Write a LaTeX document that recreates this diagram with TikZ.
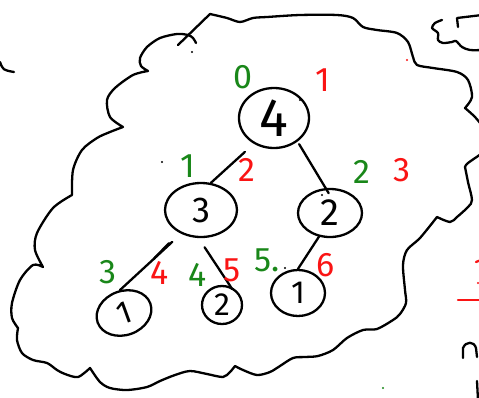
\documentclass[tikz,border=0pt]{standalone}
\usepackage{fontspec}
\setmainfont{Fira Sans}
\usetikzlibrary{shapes.geometric,calc}
\definecolor{hgreen}{RGB}{25,135,25}
\definecolor{hred}{RGB}{250,20,20}
\begin{document}
\begin{tikzpicture}[x=1pt,y=-1pt,
  ink/.style={line width=2.3pt, line cap=round, line join=round},
  tnode/.style={ellipse, draw, line width=2.3pt, inner sep=0pt},
  glab/.style={text=hgreen, font=\fontsize{34}{36}\selectfont, inner sep=0pt},
  rlab/.style={text=hred, font=\fontsize{34}{36}\selectfont, inner sep=0pt},
  edgeline/.style={ink}]
\useasboundingbox (0,0) rectangle (479,397);
\clip (0,0) rectangle (479,397);
\fill[white] (0,0) rectangle (479,397);

% big cloud
\draw[ink] (178,45) -- (210,14)
  -- plot[smooth] coordinates {(210,14) (227,18) (240,22) (253,18) (267,17) (300,15) (337,15) (353,18) (363,27) (377,30) (397,33) (408,42) (413,57) (417,65) (433,68) (457,72) (468,80) (472,97) (465,108)}
  -- plot[smooth] coordinates {(465,108) (475,117) (484,128)};
\draw[ink] plot[smooth] coordinates {(484,152) (468,163) (465,167)}
  -- plot[smooth] coordinates {(465,167) (468,182) (472,200) (468,207) (457,217) (450,222) (437,217)}
  -- plot[smooth] coordinates {(437,217) (420,238) (407,250) (403,265) (405,290) (406,303) (400,314) (393,320) (377,329) (363,330) (347,338) (333,350) (318,356) (305,357) (293,358) (280,366) (270,372) (257,375) (243,370) (235,366)}
  -- plot[smooth] coordinates {(235,366) (230,372) (223,377) (207,374) (190,371) (175,375) (160,381) (147,387) (127,390) (110,388) (100,382) (90,368)}
  -- plot[smooth] coordinates {(90,368) (78,377) (65,374) (57,370) (47,363) (33,360) (22,353) (17,340) (18,328)}
  -- plot[smooth] coordinates {(18,328) (12,318) (12,303) (20,280) (33,265) (43,267)}
  -- plot[smooth] coordinates {(43,267) (35,250) (37,233) (53,208) (72,195)}
  -- plot[smooth] coordinates {(72,195) (73,170) (82,150) (97,138) (110,132) (123,127)}
  -- plot[smooth] coordinates {(123,127) (110,117) (107,100) (115,88) (133,75) (148,71)}
  -- plot[smooth] coordinates {(148,71) (141,66) (140,58) (147,47) (160,38) (177,34) (188,35) (193,38) (196,43)};

% small cloud top right
\draw[ink] plot[smooth] coordinates {(442,20) (435,23) (432,28) (438,33) (438,40) (443,43) (452,42) (456,41) (462,47) (470,50) (482,50)};
\draw[ink] (458,27) -- (457,18) -- (482,15);

% other fragments
\draw[ink] (0,62) .. controls (3,70) .. (14,72);
\draw[ink, hred] (458,300) -- (482,300);
\draw[ink, hred] (476,262) -- (481,260);
\fill[hred] (478,283) circle (1.2pt);
\draw[ink] (463,358) -- (463,348) .. controls (466,341) and (474,341) .. (476,348) -- (477,357);
\draw[ink] (477,381) -- (478,400);
\fill (192,52) circle (1.1pt);
\fill (162,162) circle (1.1pt);
\fill (300,100) circle (1.1pt);
\fill (322,195) circle (1.1pt);
\fill (285,268) circle (1.1pt);
\fill[hred] (407,60) circle (1.1pt);
\fill[hgreen] (383,388) circle (1.1pt);

% tree nodes
\node[tnode, minimum width=70pt, minimum height=60pt, font=\fontsize{54}{54}\selectfont] (n4) at (274,118) {4};
\node[tnode, minimum width=72pt, minimum height=54pt, font=\fontsize{36}{36}\selectfont] (n3) at (201,210) {3};
\node[tnode, minimum width=64pt, minimum height=48pt, font=\fontsize{38}{38}\selectfont] (n2a) at (330,213) {2};
\node[tnode, minimum width=56pt, minimum height=44pt, font=\fontsize{32}{32}\selectfont, rotate=20] (n1a) at (124,313) {1};
\node[tnode, minimum width=40pt, minimum height=38pt, font=\fontsize{32}{32}\selectfont] (n2b) at (222,305) {2};
\node[tnode, minimum width=54pt, minimum height=46pt, font=\fontsize{32}{32}\selectfont] (n1c) at (298,293) {1};

% edges
\draw[edgeline, shorten <=12pt] (n4.232) -- (n3.70);
\draw[edgeline, shorten <=3pt, shorten >=-6pt] (n4.315) -- (n2a.100);
\draw[edgeline, shorten <=12pt] (n3.230) -- (n1a.80);
\draw[edgeline, shorten <=13pt] ([xshift=-3pt]n3.230) -- ($(n3.230)!0.45!(n1a.80)$);
\draw[edgeline, shorten <=11pt, shorten >=-3pt] (n3.265) -- (n2b.65);
\draw[edgeline] (n2a.245) -- (n1c.90);

% labels
\node[glab] (g0) at (243,77) {0};
\node[rlab] (r1) at (323,80) {1};
\node[glab] (g1) at (188,166) {1};
\node[rlab] (r2) at (247,170) {2};
\node[glab] (g2) at (362,172) {2};
\node[rlab] (r3) at (402,170) {3};
\node[glab] (g3) at (108,272) {3};
\node[rlab] (r4) at (160,273) {4};
\node[glab] (g4) at (198,275) {4};
\node[rlab] (r5) at (232,270) {5};
\node[glab] (g5) at (267,260) {5.};
\node[rlab] (r6) at (326,265) {6};
\end{tikzpicture}
\end{document}
